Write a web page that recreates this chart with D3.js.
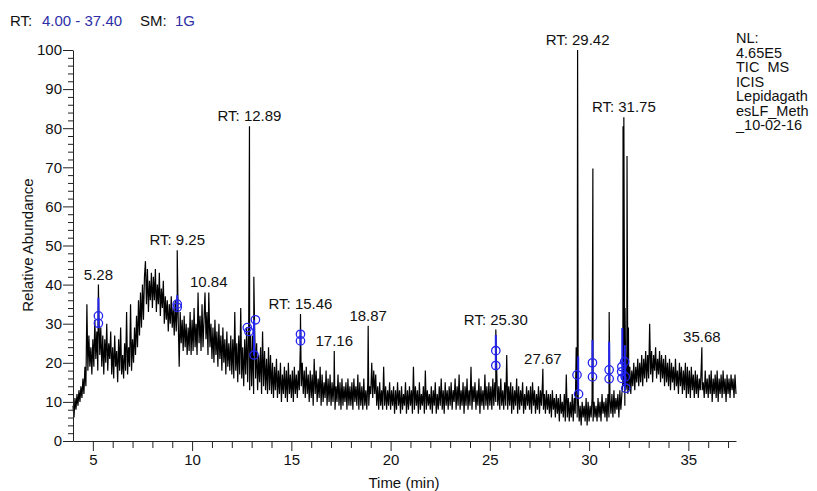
<!DOCTYPE html>
<html>
<head>
<meta charset="utf-8">
<script src="https://cdn.jsdelivr.net/npm/d3@7"></script>
<style>
	body { margin: 0; background: #fff; }
	svg { display: block; font-family: "Liberation Sans", Arial, sans-serif; }
</style>
</head>
<body>
<svg width="817" height="491"></svg>
<script>
// TIC trace, sampled every 0.05 min from 4.00 min (one row = one minute)
const traceStart = 4.0
const traceStep = 0.05
const traceRows = [
	[9, 6, 11, 8, 12, 9, 13, 10, 14, 11, 16, 12, 19, 14, 35, 18, 27, 19, 24, 17],
	[26, 19, 31, 21, 28, 18, 33, 22, 29, 19, 27, 17, 26, 20, 30, 18, 25, 21, 28, 17],
	[24, 16, 27, 19, 23, 15, 26, 18, 29, 17, 22, 16, 25, 18, 33, 17, 24, 19, 35, 18],
	[26, 20, 29, 22, 32, 24, 36, 27, 38, 29, 40, 31, 42, 46, 35, 44, 33, 41, 36, 43],
	[34, 42, 36, 44, 33, 40, 35, 43, 32, 39, 34, 41, 30, 37, 31, 36, 28, 35, 30, 37],
	[29, 34, 27, 36, 28, 35, 31, 19, 33, 25, 31, 23, 32, 24, 30, 22, 29, 23, 33, 22],
	[31, 23, 34, 24, 30, 22, 38, 25, 32, 23, 35, 24, 31, 38, 26, 33, 22, 36, 24, 30],
	[21, 29, 20, 31, 22, 28, 19, 30, 21, 27, 18, 29, 20, 26, 17, 28, 19, 25, 18, 27],
	[17, 26, 16, 33, 18, 25, 15, 27, 17, 34, 16, 24, 14, 26, 17, 29, 15, 28, 13, 27],
	[14, 27, 12, 29, 16, 25, 13, 22, 15, 24, 12, 28, 14, 23, 13, 21, 12, 24, 13, 22],
	[12, 20, 11, 19, 13, 21, 11, 18, 12, 20, 10, 17, 12, 19, 11, 18, 10, 20, 12, 17],
	[11, 18, 10, 19, 12, 17, 11, 18, 13, 24, 14, 20, 12, 18, 11, 19, 12, 17, 10, 18],
	[11, 17, 9, 21, 12, 18, 10, 16, 11, 19, 9, 17, 10, 15, 11, 18, 9, 16, 10, 17],
	[9, 15, 10, 16, 8, 14, 10, 17, 9, 15, 8, 16, 9, 14, 10, 15, 8, 16, 9, 14],
	[9, 15, 8, 16, 10, 14, 9, 17, 8, 15, 9, 14, 8, 16, 9, 13, 8, 15, 9, 14],
	[12, 20, 11, 18, 12, 17, 9, 14, 8, 15, 9, 13, 8, 19, 9, 14, 8, 13, 9, 15],
	[8, 13, 9, 14, 7, 13, 8, 15, 9, 13, 7, 14, 8, 12, 9, 15, 7, 13, 8, 14],
	[9, 13, 7, 19, 8, 14, 9, 13, 7, 15, 8, 12, 9, 14, 7, 18, 8, 13, 9, 12],
	[8, 14, 7, 13, 9, 15, 7, 12, 8, 14, 9, 16, 8, 13, 7, 15, 9, 13, 8, 14],
	[9, 15, 8, 13, 10, 16, 8, 14, 9, 17, 8, 13, 9, 15, 7, 14, 9, 16, 8, 13],
	[9, 19, 8, 14, 10, 15, 8, 13, 9, 16, 7, 14, 9, 13, 8, 17, 9, 14, 8, 15],
	[9, 14, 8, 16, 9, 15, 10, 17, 9, 14, 8, 16, 9, 13, 8, 15, 9, 22, 8, 14],
	[9, 15, 7, 14, 8, 13, 9, 16, 7, 14, 8, 13, 9, 15, 7, 12, 8, 14, 9, 13],
	[8, 14, 7, 15, 9, 13, 7, 12, 8, 14, 7, 13, 9, 15, 8, 12, 7, 13, 8, 12],
	[7, 12, 6, 13, 8, 11, 6, 12, 7, 11, 5, 12, 7, 10, 6, 12, 5, 17, 6, 11],
	[5, 10, 6, 12, 5, 11, 7, 24, 6, 11, 5, 9, 4, 10, 6, 9, 5, 11, 4, 10],
	[5, 9, 6, 11, 5, 10, 6, 9, 5, 11, 6, 10, 5, 12, 7, 10, 6, 11, 5, 12],
	[6, 11, 7, 12, 6, 13, 7, 11, 8, 12, 6, 13, 8, 12, 15, 14, 9, 13, 15, 12],
	[13, 19, 12, 18, 14, 20, 13, 19, 15, 21, 14, 20, 15, 22, 14, 21, 16, 23, 15, 22],
	[16, 30, 17, 23, 15, 22, 18, 24, 16, 21, 17, 23, 15, 22, 16, 21, 14, 22, 15, 20],
	[14, 21, 13, 20, 15, 19, 13, 21, 14, 18, 12, 20, 14, 19, 12, 18, 13, 20, 11, 19],
	[12, 18, 11, 19, 13, 17, 11, 18, 12, 17, 11, 16, 13, 19, 13, 15, 11, 18, 12, 16],
	[11, 17, 12, 18, 10, 16, 12, 17, 11, 18, 10, 16, 12, 17, 11, 18, 12, 16, 10, 17],
	[12, 16, 11, 17, 13, 16, 11, 17, 12]
]

// peak apexes [RT, relative abundance]
const apexes = [
	[5.28, 40], [9.25, 48.8], [10.84, 38], [12.89, 80.5], [13.11, 42],
	[15.46, 32.5], [17.16, 23], [18.87, 29.5], [25.30, 28.5], [27.67, 18.5],
	[29.42, 100], [30.19, 69.7], [31.01, 33], [31.71, 80.5], [31.75, 82.8],
	[31.81, 34], [31.91, 72.9], [31.98, 29], [35.68, 24]
]

const labelRT = [5.28, 9.25, 10.84, 12.89, 15.46, 17.16, 18.87, 25.30, 27.67, 29.42, 31.75, 35.68]
const labelText = ["5.28", "RT: 9.25", "10.84", "RT: 12.89", "RT: 15.46", "17.16", "18.87", "RT: 25.30", "27.67", "RT: 29.42", "RT: 31.75", "35.68"]

// blue peak markers: stems [RT, top, bottom] and circles [RT, value]
const markerStems = [
	[5.28, 36.6, 29.2], [9.25, 37.3, 33.5], [13.12, 31, 21.8], [15.46, 28.4, 24.6],
	[25.30, 27.1, 18.2], [29.45, 21.6, 11.8], [30.17, 25.8, 16.1], [31.01, 25.4, 15.6],
	[31.67, 28.9, 15.6], [31.80, 24.5, 13]
]
const markerCircles = [
	[5.28, 32], [5.28, 30.1], [9.25, 35], [9.25, 34.2], [12.78, 29], [12.86, 28],
	[13.19, 31], [13.12, 22], [15.46, 27.3], [15.46, 25.6], [25.30, 23.1], [25.30, 19.3],
	[29.39, 16.9], [29.47, 12], [30.17, 20], [30.17, 16.4], [31.01, 18.2], [31.01, 15.9],
	[31.65, 19], [31.64, 17.7], [31.65, 16], [31.79, 20.3], [31.82, 16.4], [31.85, 13.5]
]

const infoLines = ["NL:", "4.65E5", "TIC  MS", "ICIS", "Lepidagath", "esLF_Meth", "_10-02-16"]

const svg = d3.select("svg")
const blue = "#2424f0"
const textBlue = "#2e2ea6"

const x = d3.scaleLinear().domain([4, 37.4]).range([73, 736])
const y = d3.scaleLinear().domain([0, 100]).range([441, 50])

// samples + apexes, in time order
const samples = traceRows.flat().map((v, i) => [+(traceStart + i * traceStep).toFixed(2), v])
const trace = samples.concat(apexes).sort((a, b) => a[0] - b[0])

svg.append("path")
	.datum(trace)
	.attr("d", d3.line().x(d => x(d[0])).y(d => y(d[1])))
	.attr("fill", "none")
	.attr("stroke", "#000")
	.attr("stroke-width", 1.2)

// axes
const gx = svg.append("g")
	.attr("transform", "translate(0,441)")
	.call(d3.axisBottom(x)
		.tickValues(d3.range(5, 38))
		.tickFormat(d => d % 5 === 0 ? d : "")
		.tickSize(7)
		.tickSizeOuter(0)
		.tickPadding(6))
gx.attr("font-size", 15).attr("font-family", null)
gx.selectAll(".tick line").attr("y2", d => d % 5 === 0 ? 10 : 7)

const gy = svg.append("g")
	.attr("transform", "translate(73,0)")
	.call(d3.axisLeft(y)
		.tickValues(d3.range(0, 101, 2))
		.tickFormat(d => d % 10 === 0 ? d : "")
		.tickSize(5)
		.tickSizeOuter(0)
		.tickPadding(6))
gy.attr("font-size", 15).attr("font-family", null)
gy.selectAll(".tick line").attr("x2", d => d % 10 === 0 ? -10 : -5)

svg.selectAll(".domain, .tick line").attr("stroke", "#222")
svg.selectAll(".tick text").attr("fill", "#111")

// blue markers
svg.append("g")
	.selectAll("line")
	.data(markerStems)
	.enter()
	.append("line")
	.attr("x1", d => x(d[0]))
	.attr("x2", d => x(d[0]))
	.attr("y1", d => y(d[1]))
	.attr("y2", d => y(d[2]))
	.attr("stroke", blue)
	.attr("stroke-width", 2)

svg.append("g")
	.selectAll("circle")
	.data(markerCircles)
	.enter()
	.append("circle")
	.attr("cx", d => x(d[0]))
	.attr("cy", d => y(d[1]))
	.attr("r", 4.2)
	.attr("fill", "none")
	.attr("stroke", blue)
	.attr("stroke-width", 1.3)

// peak labels sit just above their apex
svg.append("g")
	.selectAll("text")
	.data(labelRT)
	.enter()
	.append("text")
	.attr("x", d => x(d))
	.attr("y", d => y(apexes.find(a => a[0] === d)[1]) - 5)
	.attr("text-anchor", "middle")
	.attr("font-size", 15)
	.attr("fill", "#111")
	.text((d, i) => labelText[i])

// header
const header = svg.append("text").attr("y", 26).attr("font-size", 15)
header.append("tspan").attr("x", 10).attr("fill", "#111").text("RT:")
header.append("tspan").attr("x", 42).attr("fill", textBlue).text("4.00 - 37.40")
header.append("tspan").attr("x", 140).attr("fill", "#111").text("SM:")
header.append("tspan").attr("x", 175).attr("fill", textBlue).text("1G")

// info block on the right, one text element with a line per tspan
svg.append("text")
	.attr("x", 736)
	.attr("y", 43)
	.attr("font-size", 14.5)
	.attr("fill", "#111")
	.style("white-space", "pre")
	.selectAll("tspan")
	.data(infoLines)
	.enter()
	.append("tspan")
	.attr("x", 736)
	.attr("dy", (d, i) => i === 0 ? 0 : 14.5)
	.text(d => d)

// axis titles
svg.append("text")
	.attr("transform", "translate(33,245) rotate(-90)")
	.attr("text-anchor", "middle")
	.attr("font-size", 15)
	.attr("fill", "#111")
	.text("Relative Abundance")

svg.append("text")
	.attr("x", 404)
	.attr("y", 488)
	.attr("text-anchor", "middle")
	.attr("font-size", 15)
	.attr("fill", "#111")
	.text("Time (min)")
</script>
</body>
</html>
